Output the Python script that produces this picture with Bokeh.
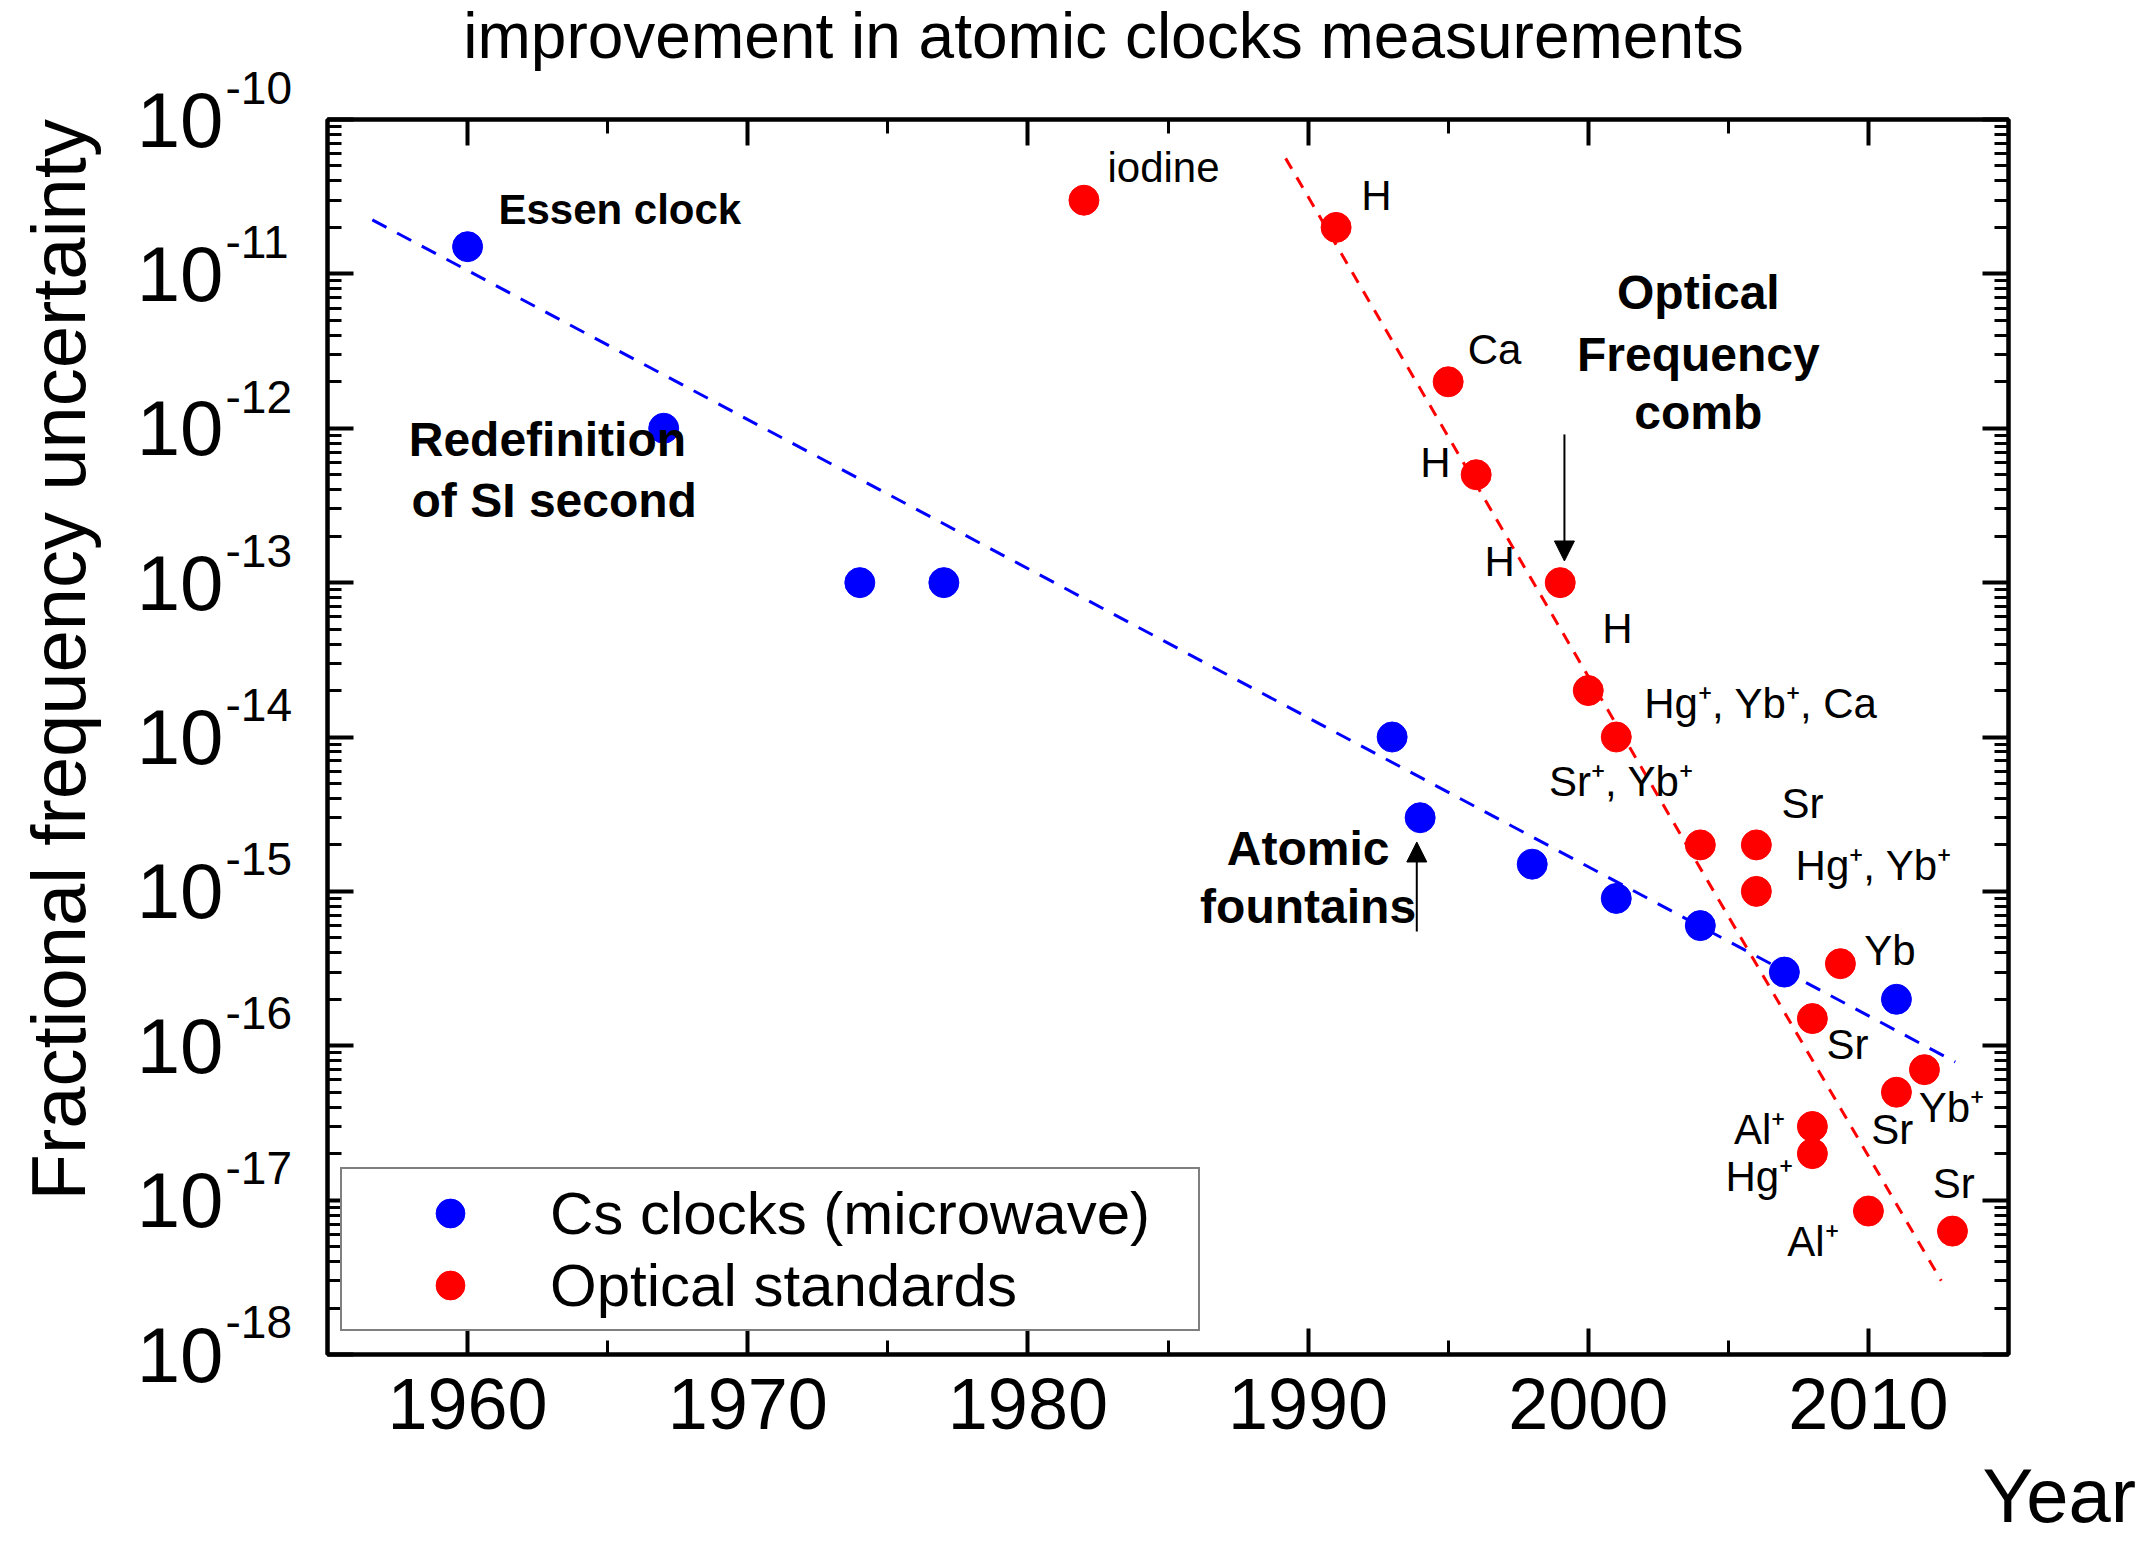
import math

from bokeh.core.properties import value
from bokeh.embed import file_html
from bokeh.models import (Arrow, ColumnDataSource, CustomJSTickFormatter, FixedTicker,
                          Label, Legend, LegendItem, LinearAxis, LogAxis, NormalHead, Range1d)
from bokeh.plotting import figure
from bokeh.resources import INLINE

FONT = "Liberation Sans"

# --- measurements -----------------------------------------------------------
cs_years = [1960, 1967, 1974, 1977, 1993, 1994, 1998, 2001, 2004, 2007, 2011]
cs_values = [1.5e-11, 1e-12, 1e-13, 1e-13, 1e-14, 3e-15, 1.5e-15, 9e-16, 6e-16, 3e-16, 2e-16]

opt_years = [1982, 1991, 1995, 1996, 1999, 2000, 2001, 2004, 2006, 2006,
             2009, 2008, 2012, 2011, 2008, 2008, 2010, 2013]
opt_values = [3e-11, 2e-11, 2e-12, 5e-13, 1e-13, 2e-14, 1e-14, 2e-15, 2e-15, 1e-15,
              3.4e-16, 1.5e-16, 7e-17, 5e-17, 3e-17, 2e-17, 8.5e-18, 6.3e-18]

# trend lines (end points of the fitted exponential improvement)
cs_trend_years = [1956.6, 2013.1]
cs_trend_values = [2.24e-11, 7.85e-17]
opt_trend_years = [1989.2, 2012.6]
opt_trend_values = [5.6e-11, 3.0e-18]

# axis ticks
x_major_ticks = [1960, 1970, 1980, 1990, 2000, 2010]
x_minor_ticks = [1965, 1975, 1985, 1995, 2005]
y_exponents = [-18, -17, -16, -15, -14, -13, -12, -11, -10]

# species labels: (text, year, log10 of position)
species_labels = [
    ("iodine", 1982.84, -10.31),
    ("H", 1991.9, -10.49),
    ("Ca", 1995.7, -11.49),
    ("H", 1994.0, -12.22),
    ("H", 1996.3, -12.86),
    ("H", 2000.5, -13.30),
    ("Hg\u207a, Yb\u207a, Ca", 2002.0, -13.78),
    ("Sr\u207a, Yb\u207a", 1998.6, -14.29),
    ("Sr", 2006.9, -14.43),
    ("Hg\u207a, Yb\u207a", 2007.4, -14.83),
    ("Yb", 2009.85, -15.38),
    ("Sr", 2008.5, -15.99),
    ("Yb\u207a", 2011.8, -16.40),
    ("Sr", 2010.1, -16.54),
    ("Al\u207a", 2005.2, -16.54),
    ("Hg\u207a", 2004.9, -16.85),
    ("Sr", 2012.3, -16.89),
    ("Al\u207a", 2007.1, -17.27),
]

# bold notes: (text, year, log10 of position, alignment, font size)
notes = [
    ("Essen clock", 1961.1, -10.58, "left", "42px"),
    ("Redefinition", 1957.9, -12.07, "left", "48px"),
    ("of SI second", 1958.0, -12.47, "left", "48px"),
    ("Optical", 2003.93, -11.12, "center", "48px"),
    ("Frequency", 2003.93, -11.52, "center", "48px"),
    ("comb", 2003.93, -11.90, "center", "48px"),
    ("Atomic", 1990.0, -14.72, "center", "48px"),
    ("fountains", 1990.0, -15.10, "center", "48px"),
]

# --- figure -----------------------------------------------------------------
p = figure(width=2152, height=1543,
           x_range=Range1d(1955, 2015), y_range=Range1d(1e-18, 1e-10),
           y_axis_type="log", output_backend="svg", toolbar_location=None,
           min_border_left=327, min_border_right=144,
           min_border_top=119, min_border_bottom=189)
p.background_fill_color = "white"
p.border_fill_color = "white"
p.xgrid.visible = False
p.ygrid.visible = False
p.outline_line_color = "black"
p.outline_line_width = 4

x_ticker = FixedTicker(ticks=x_major_ticks, minor_ticks=x_minor_ticks)
y_major = [10.0 ** e for e in y_exponents]
y_minor = [k * 10.0 ** e for e in y_exponents[:-1] for k in range(2, 10)]
y_ticker = FixedTicker(ticks=y_major, minor_ticks=y_minor)


def style_axis(ax):
    ax.axis_line_color = "black"
    ax.axis_line_width = 4
    ax.major_tick_in = 26
    ax.major_tick_out = 0
    ax.minor_tick_in = 14
    ax.minor_tick_out = 0
    ax.major_tick_line_width = 4
    ax.minor_tick_line_width = 3
    ax.major_tick_line_color = "black"
    ax.minor_tick_line_color = "black"
    ax.major_label_text_font = FONT
    ax.major_label_text_color = "black"


xax = p.xaxis[0]
xax.ticker = x_ticker
style_axis(xax)
xax.major_label_text_font_size = "72px"
xax.major_label_standoff = 24

yax = p.yaxis[0]
yax.ticker = y_ticker
style_axis(yax)
yax.formatter = CustomJSTickFormatter(code="return '10'")
yax.major_label_text_font_size = "78px"
yax.major_label_standoff = 104

# mirrored tick marks on the top and right edges
top_ax = LinearAxis(ticker=x_ticker, formatter=CustomJSTickFormatter(code="return ''"))
style_axis(top_ax)
top_ax.major_label_standoff = 0
p.add_layout(top_ax, "above")
right_ax = LogAxis(ticker=y_ticker, formatter=CustomJSTickFormatter(code="return ''"))
style_axis(right_ax)
right_ax.major_label_standoff = 0
p.add_layout(right_ax, "right")

# title, axis titles and decade exponents live in the side panels so they are not clipped
p.add_layout(Label(x=1982.7, y=10 ** -9.456, text="improvement in atomic clocks measurements",
                   text_font=FONT, text_font_size="64px", text_color="black",
                   text_align="center", text_baseline="middle"), "above")

exponent_text = "\n".join(str(e) for e in reversed(y_exponents))
p.add_layout(Label(x=1951.36, y=1e-14, text=exponent_text, text_font=FONT,
                   text_font_size="46px", text_align="left", text_color="black",
                   text_baseline="middle", text_line_height=2.965, y_offset=32), "right")

p.add_layout(Label(x=1945.39, y=10 ** -13.5, text="Fractional frequency uncertainty",
                   angle=math.pi / 2, text_font=FONT, text_font_size="76px",
                   text_color="black", text_align="center", text_baseline="middle"),
             "left")
p.add_layout(Label(x=2014.07, y=10 ** -18.913, text="Year", text_font=FONT,
                   text_font_size="76px", text_color="black", text_align="left",
                   text_baseline="middle"), "below")

# --- data -------------------------------------------------------------------
p.line(cs_trend_years, cs_trend_values, line_color="#0000FF", line_width=3, line_dash="16 12")
p.line(opt_trend_years, opt_trend_values, line_color="#FF0000", line_width=3, line_dash="12 10")

r_cs = p.scatter(cs_years, cs_values, marker="circle", size=30,
                 fill_color="#0000FF", line_color="#0000FF")
r_opt = p.scatter(opt_years, opt_values, marker="circle", size=30,
                  fill_color="#FF0000", line_color="#FF0000")

label_src = ColumnDataSource(dict(
    x=[s[1] for s in species_labels],
    y=[10.0 ** s[2] for s in species_labels],
    text=[s[0] for s in species_labels],
))
p.text("x", "y", text="text", source=label_src, text_font=value(FONT),
       text_font_size="42px", text_align="left", text_baseline="middle", text_color="black")

note_src = ColumnDataSource(dict(
    x=[n[1] for n in notes],
    y=[10.0 ** n[2] for n in notes],
    text=[n[0] for n in notes],
    align=[n[3] for n in notes],
    size=[n[4] for n in notes],
))
p.text("x", "y", text="text", source=note_src, text_font=value(FONT),
       text_font_size="size", text_align="align", text_baseline="middle",
       text_font_style="bold", text_color="black")

p.add_layout(Arrow(end=NormalHead(size=20, fill_color="black", line_color="black"),
                   x_start=1999.15, y_start=10 ** -12.04, x_end=1999.15, y_end=10 ** -12.86,
                   line_width=2, line_color="black"))
p.add_layout(Arrow(end=NormalHead(size=20, fill_color="black", line_color="black"),
                   x_start=1993.88, y_start=10 ** -15.26, x_end=1993.88, y_end=10 ** -14.68,
                   line_width=2, line_color="black"))

legend = Legend(items=[LegendItem(label="Cs clocks (microwave)", renderers=[r_cs]),
                       LegendItem(label="Optical standards", renderers=[r_opt])],
                location=(13, 23), orientation="vertical",
                glyph_width=200, glyph_height=72, label_width=640, label_standoff=0,
                padding=8, spacing=0, margin=0,
                label_text_font=FONT, label_text_font_size="60px", label_text_color="black",
                border_line_color="black", border_line_width=2,
                background_fill_color="white", background_fill_alpha=1.0)
p.add_layout(legend)

open("out.html", "w").write(file_html(p, INLINE))
